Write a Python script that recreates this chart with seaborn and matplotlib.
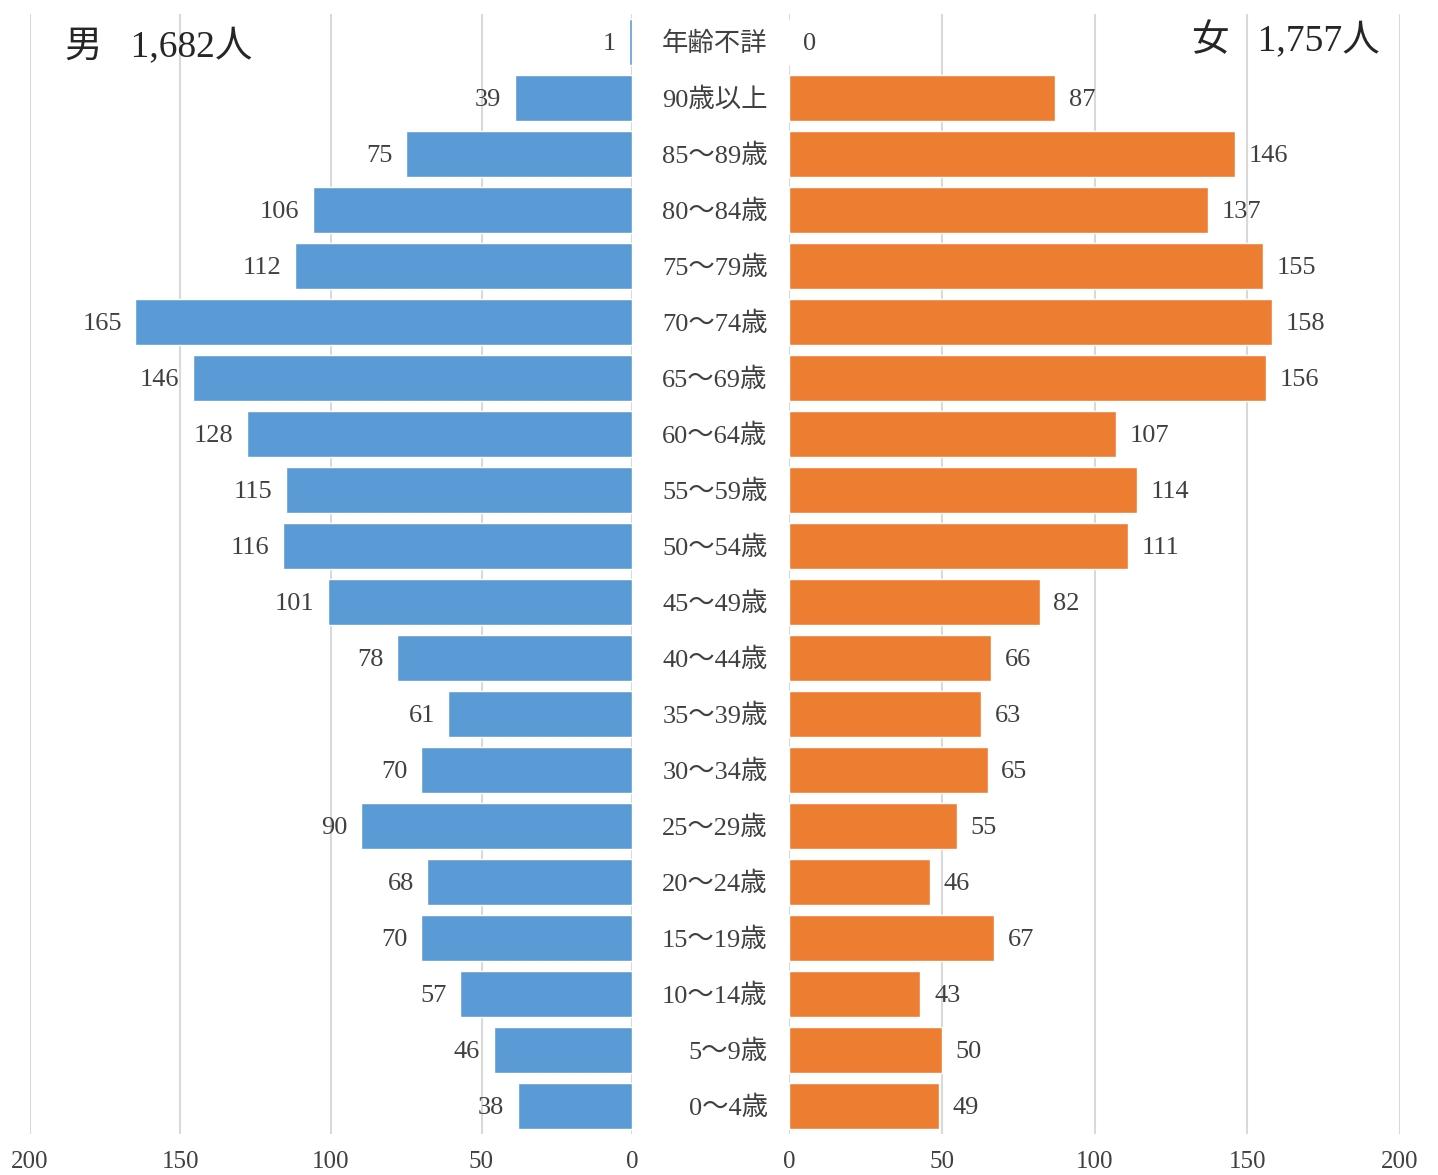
import matplotlib
matplotlib.use("Agg")
import matplotlib.pyplot as plt
import seaborn as sns
import pandas as pd

# 年齢階級（上から順）
age_groups = ["年齢不詳", "90歳以上", "85～89歳", "80～84歳", "75～79歳", "70～74歳",
              "65～69歳", "60～64歳", "55～59歳", "50～54歳", "45～49歳", "40～44歳",
              "35～39歳", "30～34歳", "25～29歳", "20～24歳", "15～19歳", "10～14歳",
              "5～9歳", "0～4歳"]
male = [1, 39, 75, 106, 112, 165, 146, 128, 115, 116, 101, 78, 61, 70, 90, 68, 70, 57, 46, 38]
female = [0, 87, 146, 137, 155, 158, 156, 107, 114, 111, 82, 66, 63, 65, 55, 46, 67, 43, 50, 49]
ticks = [0, 50, 100, 150, 200]
male_title = "男   1,682人"
female_title = "女   1,757人"

sns.set_style("white")
plt.rcParams["font.family"] = ["Liberation Serif", "Noto Sans CJK JP", "DejaVu Sans"]

df = pd.DataFrame({"age": age_groups, "male": male, "female": female})

fig = plt.figure(figsize=(14.38, 11.75), dpi=100)
ax_m = fig.add_axes([30 / 1438, 0.0349, (632 - 30) / 1438, 0.9532])
ax_f = fig.add_axes([789 / 1438, 0.0349, (1400 - 789) / 1438, 0.9532])

sns.barplot(data=df, x="male", y="age", orient="h", color="#5B9BD5",
            width=0.82, saturation=1, ax=ax_m)
sns.barplot(data=df, x="female", y="age", orient="h", color="#ED7D31",
            width=0.82, saturation=1, ax=ax_f)

grid_col = "#D9D9D9"
for ax in (ax_m, ax_f):
    ax.set_xlim(0, 200)
    ax.set_ylim(len(age_groups) - 0.5, -0.5)
    ax.set_xticks(ticks)
    ax.set_xticklabels([str(t) for t in ticks])
    ax.tick_params(axis="x", length=0, labelsize=18, pad=12, colors="#404040")
    ax.set_yticks([])
    ax.set_xlabel("")
    ax.set_ylabel("")
    ax.grid(axis="x", color=grid_col, linewidth=1.5)
    ax.set_axisbelow(True)
    for s in ax.spines.values():
        s.set_visible(False)
ax_m.invert_xaxis()

for i, v in enumerate(male):
    ax_m.text(v + 4.5, i + 0.03, str(v), ha="right", va="center", fontsize=19, color="#404040")
for i, v in enumerate(female):
    ax_f.text(v + 4.5, i + 0.03, str(v), ha="left", va="center", fontsize=19, color="#404040")

for i, lab in enumerate(age_groups):
    ax_f.text(-7, i + 0.03, lab, ha="right", va="center", fontsize=19, color="#404040",
              clip_on=False)

fig.text(65 / 1438, 1 - 47 / 1175, male_title, ha="left", va="center",
         fontsize=27, color="#262626")
fig.text(1380 / 1438, 1 - 40 / 1175, female_title, ha="right", va="center",
         fontsize=27, color="#262626")

fig.savefig("out.png", dpi=100, facecolor="white")
